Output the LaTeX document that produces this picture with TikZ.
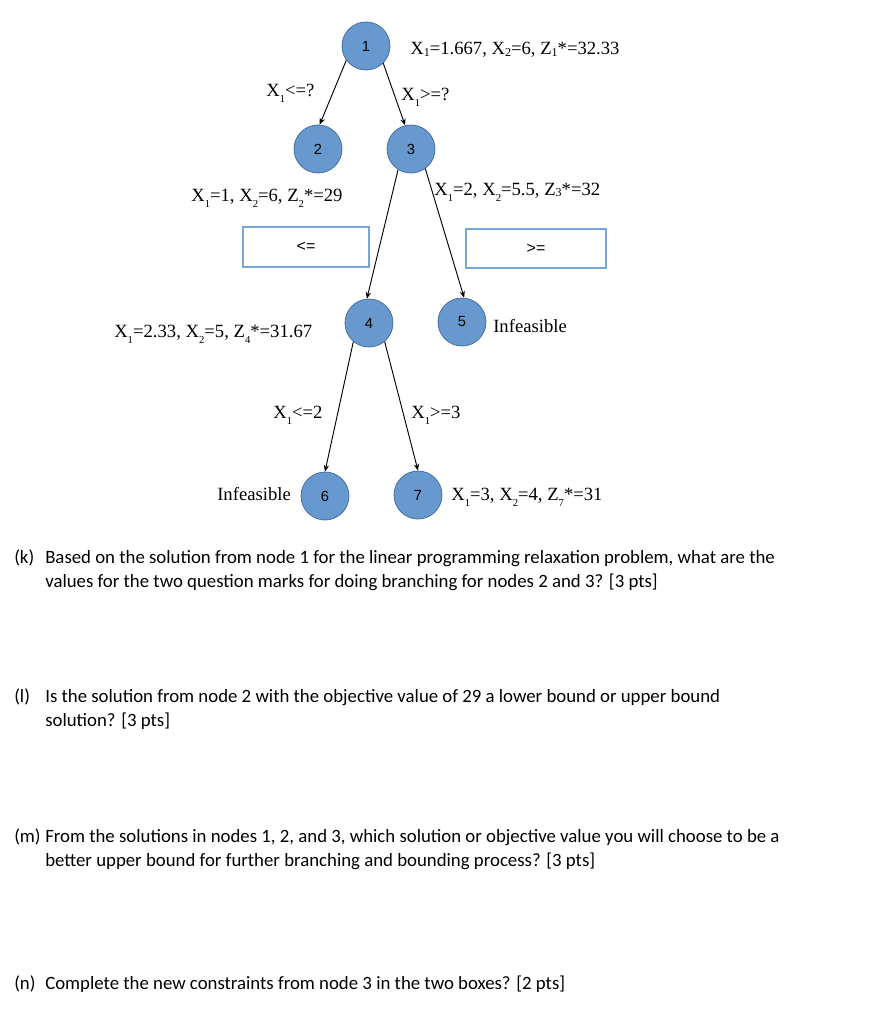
\documentclass[tikz,border=0pt]{standalone}
\usepackage{fontspec}
\setmainfont{Liberation Serif}
\newfontfamily\calfont{Carlito}
\newfontfamily\helfont{Liberation Sans}
\usetikzlibrary{arrows.meta}
\definecolor{nodefill}{RGB}{103,152,206}
\definecolor{nodeline}{RGB}{72,112,160}
\definecolor{boxline}{RGB}{120,165,215}
\newcommand{\lsb}[1]{\raisebox{-0.75ex}{\fontsize{8}{8}\selectfont #1}}
\newcommand{\isb}[1]{\raisebox{-0.15ex}{\fontsize{9}{9}\selectfont #1}}
\begin{document}
\begin{tikzpicture}[x=0.75pt,y=-0.75pt,
  bb/.style={circle,fill=nodefill,draw=nodeline,line width=0.6pt,minimum size=36pt,inner sep=0pt,font=\helfont\fontsize{11}{11}\selectfont},
  lbl/.style={anchor=base west,inner sep=0pt,font=\fontsize{14}{14}\selectfont},
  qtext/.style={anchor=base west,inner sep=0pt,font=\calfont\fontsize{14.1}{14.1}\selectfont},
  cbox/.style={draw=boxline,line width=0.8pt,inner sep=0pt,font=\helfont\fontsize{12}{12}\selectfont},
  edge/.style={-{Stealth[length=5pt,width=4pt]},line width=0.7pt}
]
\useasboundingbox (0,0) rectangle (879,1024);

% tree nodes
\node[bb] (n1) at (366,46) {1};
\node[bb] (n2) at (318,149) {2};
\node[bb] (n3) at (411,149) {3};
\node[bb] (n4) at (369,323) {4};
\node[bb] (n5) at (462,322) {5};
\node[bb] (n6) at (325,496) {6};
\node[bb] (n7) at (418,495) {7};

% connectors
\draw[edge] (n1.216) -- (n2.86);
\draw[edge] (n1.315) -- (n3.104);
\draw[edge] (n3.238) -- (n4.95);
\draw[edge] (n3.306) -- (n5.85);
\draw[edge] (n4.230) -- (n6.90);
\draw[edge] (n4.310) -- (n7.90);

% labels
\node[lbl] (t1) at (410,55) {X\isb{1}=1.667, X\isb{2}=6, Z\isb{1}*=32.33};
\node[lbl] (e12) at (266,96) {X\lsb{1}<=?};
\node[lbl] (e13) at (401,100) {X\lsb{1}>=?};
\node[lbl] (t2) at (191,201) {X\lsb{1}=1, X\lsb{2}=6, Z\lsb{2}*=29};
\node[lbl] (t3) at (434,195) {X\lsb{1}=2, X\lsb{2}=5.5, Z\isb{3}*=32};
\node[lbl] (t4) at (114,337) {X\lsb{1}=2.33, X\lsb{2}=5, Z\lsb{4}*=31.67};
\node[lbl] (t5) at (493,332) {Infeasible};
\node[lbl] (e46) at (273,418) {X\lsb{1}<=2};
\node[lbl] (e47) at (411,418) {X\lsb{1}>=3};
\node[lbl] (t6) at (217,500) {Infeasible};
\node[lbl] (t7) at (451,500) {X\lsb{1}=3, X\lsb{2}=4, Z\lsb{7}*=31};

% boxes
\node[cbox,minimum width=94.5pt,minimum height=30pt] (bl) at (306,247) {<=};
\node[cbox,minimum width=105pt,minimum height=29.25pt] (br) at (536,248.5) {>=};

% questions
\node[qtext] (qk) at (14,563) {(k)};
\node[qtext] (qk1) at (45,563) {Based on the solution from node 1 for the linear programming relaxation problem, what are the};
\node[qtext] (qk2) at (45,587) {values for the two question marks for doing branching for nodes 2 and 3? [3 pts]};
\node[qtext] (ql) at (14,702) {(l)};
\node[qtext] (ql1) at (45,702) {Is the solution from node 2 with the objective value of 29 a lower bound or upper bound};
\node[qtext] (ql2) at (45,726) {solution? [3 pts]};
\node[qtext] (qm) at (14,842) {(m)};
\node[qtext] (qm1) at (45,842) {From the solutions in nodes 1, 2, and 3, which solution or objective value you will choose to be a};
\node[qtext] (qm2) at (45,866) {better upper bound for further branching and bounding process? [3 pts]};
\node[qtext] (qn) at (14,989) {(n)};
\node[qtext] (qn1) at (45,989) {Complete the new constraints from node 3 in the two boxes? [2 pts]};
\end{tikzpicture}
\end{document}
